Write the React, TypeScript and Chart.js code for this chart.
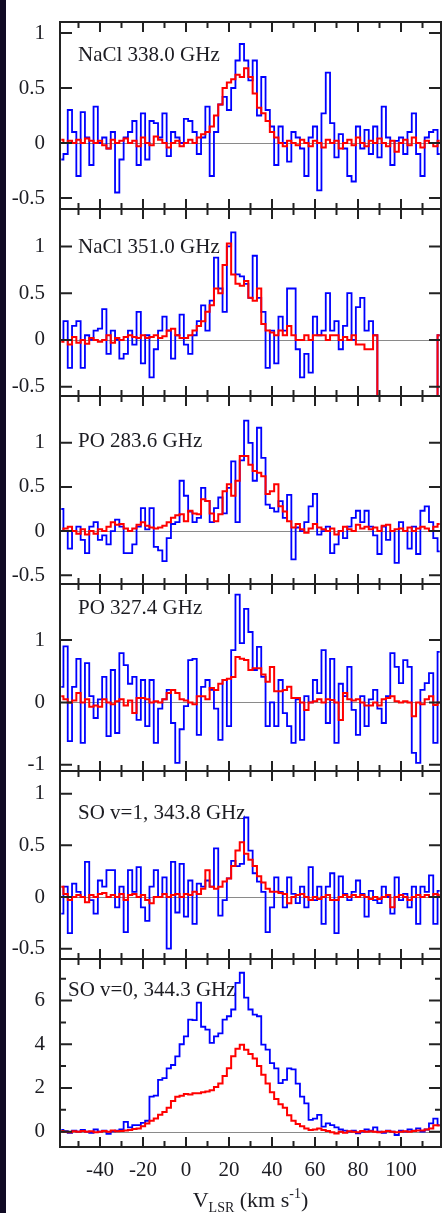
import React, { useEffect, useRef } from "react";
import { Chart, registerables } from "chart.js";

Chart.register(...registerables);

// ---------- data ----------
const VELOCITY = [
  -58, -56, -54, -52, -50, -48, -46, -44, -42, -40,
  -38, -36, -34, -32, -30, -28, -26, -24, -22, -20,
  -18, -16, -14, -12, -10, -8, -6, -4, -2, 0,
  2, 4, 6, 8, 10, 12, 14, 16, 18, 20,
  22, 24, 26, 28, 30, 32, 34, 36, 38, 40,
  42, 44, 46, 48, 50, 52, 54, 56, 58, 60,
  62, 64, 66, 68, 70, 72, 74, 76, 78, 80,
  82, 84, 86, 88, 90, 92, 94, 96, 98, 100,
  102, 104, 106, 108, 110, 112, 114, 116, 118,
];

const NACL338_BLUE = [
  -0.15, -0.1, 0.3, 0.1, -0.3, 0.28, 0.05, -0.2, 0.33, 0.0,
  0.05, -0.05, 0.1, -0.45, -0.15, 0.05, 0.1, 0.2, -0.2, 0.27,
  -0.15, 0.2, 0.18, 0.05, 0.27, -0.12, 0.1, 0.05, 0.0, 0.22,
  0.2, 0.1, -0.1, 0.05, 0.33, -0.3, 0.1, 0.35, 0.42, 0.3,
  0.5, 0.75, 0.9, 0.75, 0.57, 0.75, 0.25, 0.6, 0.3, 0.15,
  -0.2, 0.15, 0.0, -0.17, 0.1, 0.05, -0.05, -0.3, 0.05, 0.15,
  -0.43, 0.27, 0.64, 0.18, -0.13, 0.08, -0.05, -0.3, -0.35, 0.15,
  -0.05, 0.12, -0.1, 0.15, -0.13, 0.33, 0.05, -0.2, 0.02, 0.05,
  -0.1, 0.1, 0.27, -0.1, -0.3, 0.05, 0.1, 0.12, -0.1,
];
const NACL338_RED = [
  0.03, 0.0, 0.02, 0.0, 0.03, 0.0, 0.04, 0.02, 0.0, 0.02,
  -0.02, -0.05, 0.03, 0.0, 0.02, 0.04, 0.0, 0.02, -0.03, 0.05,
  0.0, -0.02, 0.06, 0.03, 0.0, -0.04, 0.0, 0.02, -0.03, 0.0,
  0.03, 0.0, 0.05, 0.08, 0.1, 0.15, 0.25, 0.35, 0.5, 0.55,
  0.58, 0.62, 0.6, 0.68, 0.6, 0.45, 0.32, 0.27, 0.2, 0.1,
  0.05, 0.0, -0.03, 0.02, 0.0, -0.02, 0.03, 0.0, -0.03, 0.02,
  0.0, -0.04, 0.03, 0.0, 0.02, -0.05, 0.0, 0.03, -0.02, 0.05,
  0.0, -0.03, 0.02, 0.0, 0.04, 0.0, -0.03, 0.02, -0.08, 0.0,
  0.03, -0.02, 0.05, 0.0, -0.04, 0.02, 0.0, -0.03, 0.02,
];

const NACL351_BLUE = [
  0.0, 0.2, -0.3, 0.15, 0.2, -0.3, 0.05, 0.0, 0.1, 0.12,
  0.33, -0.15, 0.1, 0.0, -0.2, -0.15, 0.1, -0.05, 0.3, -0.25,
  0.05, -0.4, -0.1, 0.1, 0.25, 0.1, -0.2, 0.05, 0.27, -0.05,
  -0.15, 0.05, 0.2, 0.37, 0.1, 0.42, 0.88, 0.55, 0.3, 1.0,
  1.15, 0.7, 0.68, 0.6, 0.45, 0.9, 0.45, 0.3, -0.3, 0.1,
  -0.25, 0.25, 0.1, 0.55, 0.55, -0.1, -0.4, -0.15, -0.35, 0.25,
  0.05, 0.1, 0.5, 0.1, 0.2, -0.1, 0.15, 0.5, 0.0, 0.35,
  0.45, 0.1, 0.2, 0.05, -3, -3, -3, -3, -3, -3,
  -3, -3, -3, -3, -3, -3, -3, -3, 0.05,
];
const NACL351_RED = [
  -0.02, 0.0, -0.05, 0.03, -0.03, 0.0, -0.04, 0.02, 0.0, -0.02,
  0.0, 0.05, -0.03, 0.02, 0.0, 0.03, 0.05, 0.03, 0.02, 0.05,
  0.02, 0.03, 0.05, 0.02, 0.04, 0.1, 0.12, 0.05, 0.02, 0.02,
  0.05, 0.1, 0.15, 0.2, 0.3, 0.37, 0.55, 0.5, 0.8, 1.03,
  0.7, 0.6, 0.58, 0.63, 0.45, 0.42, 0.55, 0.17, 0.1, 0.08,
  0.05, 0.1, 0.05, 0.15, 0.05, 0.0, 0.0, 0.05, 0.0, 0.05,
  0.05, 0.05, 0.0, 0.05, 0.05, 0.0, 0.03, 0.0, 0.05, -0.05,
  -0.05, -0.1, -0.1, 0.05, -3, -3, -3, -3, -3, -3,
  -3, -3, -3, -3, -3, -3, -3, -3, 0.05,
];

const PO283_BLUE = [
  0.25, 0.0, -0.2, 0.0, 0.05, -0.1, -0.25, 0.05, 0.1, -0.1,
  -0.05, -0.15, 0.0, 0.13, 0.05, -0.25, -0.25, -0.15, 0.05, 0.26,
  0.02, 0.26, -0.18, -0.22, -0.34, -0.08, 0.08, 0.1, 0.57, 0.4,
  0.22, 0.1, 0.15, 0.49, 0.34, 0.1, 0.26, 0.38, 0.2, 0.49,
  0.79, 0.1, 0.8, 1.25, 1.0, 0.57, 1.17, 0.83, 0.3, 0.26,
  0.22, 0.34, 0.15, 0.41, -0.32, 0.04, 0.0, 0.1, 0.28, 0.42,
  -0.04, 0.0, 0.05, -0.25, -0.15, 0.0, -0.08, 0.05, 0.15, 0.23,
  0.1, 0.23, 0.05, -0.05, -0.26, 0.05, -0.1, 0.0, -0.36, 0.1,
  0.0, -0.2, 0.05, -0.26, 0.23, 0.28, 0.1, -0.08, -0.23,
];
const PO283_RED = [
  0.0, 0.03, 0.05, 0.0, -0.03, 0.02, -0.04, 0.0, -0.03, 0.02,
  0.0, 0.05, 0.1, 0.07, 0.08, 0.03, 0.0, 0.03, 0.07, 0.1,
  0.06, 0.04, 0.03, 0.04, 0.06, 0.1, 0.15, 0.18, 0.19, 0.11,
  0.23, 0.2, 0.19, 0.36, 0.34, 0.2, 0.11, 0.19, 0.45, 0.53,
  0.4, 0.57, 0.85, 0.85, 0.75, 0.68, 0.66, 0.62, 0.42, 0.45,
  0.53, 0.28, 0.22, 0.11, 0.04, 0.08, 0.02, -0.02, 0.03, 0.08,
  0.04, 0.02, 0.0, 0.03, -0.04, 0.0, 0.05, 0.02, 0.0, 0.07,
  0.03, 0.05, 0.02, 0.04, 0.0, 0.06, 0.07, 0.0, 0.02, 0.03,
  0.0, 0.04, 0.0, 0.03, 0.05, 0.03, 0.0, 0.05, 0.08,
];

const PO327_BLUE = [
  0.25, 0.9, -0.62, 0.25, 0.7, -0.65, 0.63, 0.1, -0.25, 0.05,
  0.41, -0.54, 0.52, -0.49, 0.79, 0.6, 0.3, 0.41, -0.28, 0.36,
  -0.38, 0.36, -0.65, -0.1, 0.05, 0.2, -0.33, -0.97, -0.43, -0.06,
  0.68, 0.7, -0.52, 0.25, 0.36, 0.2, -0.1, -0.6, 0.36, -0.38,
  0.84, 1.73, 0.95, 1.5, 1.13, 0.52, 0.89, 0.41, -0.38, 0.0,
  -0.38, 0.36, -0.17, -0.38, -0.65, 0.05, -0.6, 0.1, 0.0, 0.36,
  0.15, 0.84, -0.33, 0.7, -0.65, 0.3, 0.1, 0.57, -0.12, -0.52,
  0.1, -0.38, 0.05, 0.2, -0.1, -0.33, 0.1, 0.79, 0.57, 0.31,
  0.68, 0.57, -0.81, -0.97, 0.2, 0.31, 0.47, -0.65, 0.81,
];
const PO327_RED = [
  0.1, 0.05, 0.0, 0.03, 0.15, 0.0, 0.05, -0.07, -0.05, -0.07,
  0.05, 0.0, -0.03, 0.02, 0.05, -0.05, 0.03, -0.17, 0.07, 0.07,
  0.05, 0.0, 0.02, 0.0, 0.05, 0.15, 0.2, 0.15, 0.05, 0.03,
  0.0, -0.03, 0.1, 0.1, 0.05, 0.23, 0.2, 0.3, 0.36, 0.38,
  0.41, 0.73, 0.7, 0.68, 0.52, 0.55, 0.55, 0.45, 0.33, 0.57,
  0.18, 0.18, 0.2, 0.25, 0.07, 0.07, 0.0, -0.12, 0.0, 0.02,
  0.05, 0.0, 0.05, 0.04, 0.0, -0.28, 0.15, 0.05, 0.03, 0.05,
  0.0, -0.05, -0.05, 0.0, -0.05, 0.05, 0.07, 0.1, 0.02, 0.0,
  0.02, 0.0, -0.22, 0.0, -0.03, 0.05, 0.1, -0.04, 0.0,
];

const SOV1_BLUE = [
  -0.16, 0.1, -0.35, 0.13, 0.05, 0.0, 0.34, -0.03, -0.16, 0.16,
  0.1, 0.26, 0.26, -0.1, 0.1, -0.34, 0.26, 0.05, 0.29, -0.1,
  -0.23, 0.1, 0.26, 0.0, 0.19, -0.5, 0.34, -0.15, 0.32, -0.19,
  0.16, -0.26, 0.13, 0.1, 0.16, 0.1, 0.47, -0.18, -0.03, 0.18,
  0.35, 0.3, 0.32, 0.77, 0.45, 0.23, 0.15, 0.05, -0.34, -0.1,
  0.19, 0.05, -0.1, 0.19, 0.03, -0.06, 0.1, -0.1, 0.29, -0.03,
  0.1, -0.26, 0.1, 0.23, -0.35, 0.2, 0.03, -0.03, 0.05, 0.16,
  0.03, -0.19, 0.06, -0.03, -0.06, 0.1, 0.0, -0.16, 0.19, -0.03,
  0.03, -0.1, 0.1, -0.26, 0.1, 0.05, 0.21, -0.26, 0.06,
];
const SOV1_RED = [
  0.1, 0.03, -0.03, 0.0, 0.02, 0.0, -0.05, 0.02, 0.0, 0.03,
  0.04, 0.0, 0.02, 0.0, 0.03, -0.03, 0.02, 0.03, 0.0, 0.02,
  -0.03, -0.06, 0.0, 0.0, 0.03, 0.0, 0.02, 0.03, 0.0, 0.03,
  0.02, 0.05, 0.03, 0.08, 0.26, 0.1, 0.08, 0.1, 0.15, 0.18,
  0.3, 0.45, 0.53, 0.42, 0.36, 0.3, 0.2, 0.14, 0.08, 0.05,
  0.05, 0.04, 0.03, -0.06, 0.0, 0.02, 0.03, 0.0, -0.03, 0.0,
  -0.02, 0.0, 0.02, -0.03, -0.03, 0.0, 0.02, 0.0, 0.02, 0.0,
  0.02, 0.0, -0.02, 0.0, -0.02, 0.0, 0.02, -0.1, 0.0, 0.02,
  0.0, -0.03, 0.0, 0.02, 0.0, 0.02, 0.0, 0.03, 0.02,
];

const SOV0_BLUE = [
  0.08, 0.02, -0.05, 0.05, 0.0, 0.08, 0.0, -0.05, 0.1, 0.0,
  0.05, -0.1, 0.02, 0.05, 0.1, 0.45, 0.2, 0.3, 0.3, 0.4,
  0.5, 1.6, 1.65, 2.37, 2.45, 2.9, 3.05, 3.45, 4.0, 4.36,
  5.13, 5.1, 5.9, 4.8, 4.67, 4.06, 4.36, 4.5, 5.13, 5.28,
  5.59, 6.81, 7.27, 6.13, 5.59, 5.36, 5.28, 3.98, 3.75, 3.14,
  2.9, 2.22, 2.37, 2.9, 2.85, 2.2, 1.6, 1.3, 0.54, 0.6,
  0.77, 0.23, 0.38, 0.3, 0.2, 0.1, 0.05, 0.0, 0.05, -0.08,
  0.0, 0.1, 0.05, 0.2, 0.0, -0.05, 0.05, 0.0, -0.15, 0.05,
  0.0, 0.1, 0.05, 0.15, 0.0, 0.1, 0.38, 0.6, 0.3,
];
const SOV0_RED = [
  0.03, 0.0, -0.02, 0.02, 0.0, 0.03, 0.0, 0.02, -0.02, 0.0,
  0.03, 0.0, 0.05, 0.02, 0.03, 0.05, 0.08, 0.12, 0.15, 0.25,
  0.38, 0.5, 0.6, 0.77, 0.9, 1.1, 1.4, 1.6, 1.65, 1.72,
  1.7, 1.76, 1.76, 1.8, 1.84, 1.9, 2.05, 2.2, 2.55, 2.9,
  3.45, 3.8, 3.98, 3.75, 3.55, 3.35, 3.0, 2.6, 2.2, 1.8,
  1.5, 1.25, 1.1, 0.75, 0.5, 0.35, 0.25, 0.15, 0.08, 0.1,
  0.15, 0.08, 0.03, -0.03, -0.08, 0.0, -0.05, 0.02, 0.0, -0.03,
  0.03, 0.0, 0.02, 0.0, -0.03, 0.0, 0.03, 0.0, -0.02, 0.0,
  0.02, 0.0, 0.03, 0.05, 0.05, 0.1, 0.15, 0.3, 0.28,
];

const PANEL_LABELS = [
  "NaCl 338.0 GHz",
  "NaCl 351.0 GHz",
  "PO 283.6 GHz",
  "PO 327.4 GHz",
  "SO v=1, 343.8 GHz",
  "SO v=0, 344.3 GHz",
];

const X_TICKS = [-40, -20, 0, 20, 40, 60, 80, 100];
const X_MINOR_TICKS = [-50, -30, -10, 10, 30, 50, 70, 90, 110];

const Y_TICKS_HALF = [-0.5, 0, 0.5, 1];
const Y_TICKS_ONE = [-1, 0, 1];
const Y_TICKS_SO0 = [0, 2, 4, 6];
const Y_MINOR_SO0 = [1, 3, 5, 7];

const X_TITLE_MAIN = "V";
const X_TITLE_SUB = "LSR";
const X_TITLE_MID = " (km s";
const X_TITLE_SUP = "-1";
const X_TITLE_END = ")";

// ---------- styling / layout ----------
const FONT = "'Liberation Serif', 'Times New Roman', Times, serif";
const TEXT = "#1c1c22";
const FRAME = "#222222";
const BLUE = "#0000ff";
const RED = "#ff0000";
const W = 443;
const H = 1213;
const PAD = 12;
const BOUNDS = [22, 209, 396, 584, 771, 959, 1147];

type PanelSpec = {
  label: string;
  blue: number[];
  red: number[];
  yMin: number;
  yMax: number;
  yTicks: number[];
  yMinor: number[];
  labelDx: number;
  labelDy: number;
};

const PANELS: PanelSpec[] = [
  { label: PANEL_LABELS[0], blue: NACL338_BLUE, red: NACL338_RED, yMin: -0.6, yMax: 1.1, yTicks: Y_TICKS_HALF, yMinor: [], labelDx: 18, labelDy: 33 },
  { label: PANEL_LABELS[1], blue: NACL351_BLUE, red: NACL351_RED, yMin: -0.6, yMax: 1.4, yTicks: Y_TICKS_HALF, yMinor: [], labelDx: 18, labelDy: 38 },
  { label: PANEL_LABELS[2], blue: PO283_BLUE, red: PO283_RED, yMin: -0.6, yMax: 1.53, yTicks: Y_TICKS_HALF, yMinor: [], labelDx: 18, labelDy: 45 },
  { label: PANEL_LABELS[3], blue: PO327_BLUE, red: PO327_RED, yMin: -1.1, yMax: 1.9, yTicks: Y_TICKS_ONE, yMinor: [], labelDx: 18, labelDy: 24 },
  { label: PANEL_LABELS[4], blue: SOV1_BLUE, red: SOV1_RED, yMin: -0.6, yMax: 1.22, yTicks: Y_TICKS_HALF, yMinor: [], labelDx: 18, labelDy: 42 },
  { label: PANEL_LABELS[5], blue: SOV0_BLUE, red: SOV0_RED, yMin: -0.7, yMax: 7.9, yTicks: Y_TICKS_SO0, yMinor: Y_MINOR_SO0, labelDx: 8, labelDy: 31 },
];

const panelPlugin = {
  id: "panelDeco",
  beforeDatasetsDraw(chart: any, _args: any, opts: any) {
    const { ctx, chartArea: a, scales } = chart;
    const y0 = Math.round(scales.y.getPixelForValue(0)) + 0.5;
    ctx.save();
    ctx.strokeStyle = "#8a8a8a";
    ctx.lineWidth = 1;
    ctx.beginPath();
    ctx.moveTo(a.left, y0);
    ctx.lineTo(a.right, y0);
    ctx.stroke();
    ctx.font = `21px ${FONT}`;
    ctx.fillStyle = TEXT;
    ctx.textBaseline = "middle";
    ctx.textAlign = "left";
    ctx.fillText(opts.label, a.left + opts.labelDx, a.top + opts.labelDy);
    ctx.restore();
  },
  afterDatasetsDraw(chart: any, _args: any, opts: any) {
    const { ctx, chartArea: a, scales } = chart;
    const xs = scales.x;
    const ys = scales.y;
    ctx.save();
    ctx.strokeStyle = FRAME;
    ctx.lineWidth = 2;
    ctx.beginPath();
    const tickX = (v: number, len: number) => {
      const px = xs.getPixelForValue(v);
      ctx.moveTo(px, a.top);
      ctx.lineTo(px, a.top + len);
      ctx.moveTo(px, a.bottom);
      ctx.lineTo(px, a.bottom - len);
    };
    X_TICKS.forEach((v) => tickX(v, 10));
    X_MINOR_TICKS.forEach((v) => tickX(v, 6));
    const tickY = (v: number, len: number) => {
      const py = ys.getPixelForValue(v);
      ctx.moveTo(a.left, py);
      ctx.lineTo(a.left + len, py);
      ctx.moveTo(a.right, py);
      ctx.lineTo(a.right - len, py);
    };
    opts.yTicks.forEach((v: number) => tickY(v, 12));
    opts.yMinor.forEach((v: number) => tickY(v, 6));
    ctx.stroke();
    ctx.strokeRect(a.left, a.top, a.right - a.left, a.bottom - a.top);
    ctx.restore();
  },
  afterDraw(chart: any, _args: any, opts: any) {
    if (!opts.showTitle) return;
    const { ctx, chartArea: a } = chart;
    const big = `22px ${FONT}`;
    const small = `14px ${FONT}`;
    const parts = [
      { t: X_TITLE_MAIN, f: big, dy: 0 },
      { t: X_TITLE_SUB, f: small, dy: 5 },
      { t: X_TITLE_MID, f: big, dy: 0 },
      { t: X_TITLE_SUP, f: small, dy: -9 },
      { t: X_TITLE_END, f: big, dy: 0 },
    ];
    ctx.save();
    ctx.fillStyle = TEXT;
    ctx.textBaseline = "alphabetic";
    ctx.textAlign = "left";
    let total = 0;
    parts.forEach((p) => {
      ctx.font = p.f;
      total += ctx.measureText(p.t).width;
    });
    let x = (a.left + a.right) / 2 - total / 2;
    const base = opts.titleBaseline;
    parts.forEach((p) => {
      ctx.font = p.f;
      ctx.fillText(p.t, x, base + p.dy);
      x += ctx.measureText(p.t).width;
    });
    ctx.restore();
  },
};

function Panel({ spec, index }: { spec: PanelSpec; index: number }) {
  const ref = useRef<HTMLCanvasElement>(null);
  const isLast = index === PANELS.length - 1;
  const top = BOUNDS[index] - PAD;
  const height = isLast ? H - top : BOUNDS[index + 1] - BOUNDS[index] + 2 * PAD;
  const xAxisHeight = isLast ? H - BOUNDS[index + 1] : 0;

  useEffect(() => {
    if (!ref.current) return;
    const toPoints = (arr: number[]) => VELOCITY.map((v, i) => ({ x: v, y: arr[i] }));
    const chart = new Chart(ref.current, {
      type: "line",
      data: {
        datasets: [
          {
            label: "red",
            data: toPoints(spec.red),
            borderColor: RED,
            borderWidth: 2,
            pointRadius: 0,
            stepped: "middle",
            fill: false,
          },
          {
            label: "blue",
            data: toPoints(spec.blue),
            borderColor: BLUE,
            borderWidth: 1.8,
            pointRadius: 0,
            stepped: "middle",
            fill: false,
          },
        ],
      },
      options: {
        animation: false,
        responsive: false,
        devicePixelRatio: 1,
        events: [],
        layout: {
          autoPadding: false,
          padding: { top: PAD, bottom: isLast ? 0 : PAD, left: 0, right: 2 },
        },
        plugins: {
          legend: { display: false },
          tooltip: { enabled: false },
          title: { display: false },
          panelDeco: {
            label: spec.label,
            labelDx: spec.labelDx,
            labelDy: spec.labelDy,
            yTicks: spec.yTicks,
            yMinor: spec.yMinor,
            showTitle: isLast,
            titleBaseline: 1207 - top,
          },
        } as any,
        scales: {
          x: {
            type: "linear",
            min: -58.6,
            max: 118.6,
            display: isLast,
            grid: { display: false, drawTicks: false },
            border: { display: false },
            ticks: {
              font: { family: FONT, size: 21 },
              color: TEXT,
              padding: 11,
              maxRotation: 0,
              autoSkip: false,
              callback: (v: any) => String(v),
            },
            afterBuildTicks: (s: any) => {
              s.ticks = X_TICKS.map((v) => ({ value: v }));
            },
            afterFit: (s: any) => {
              s.height = xAxisHeight;
              s.paddingLeft = 0;
              s.paddingRight = 0;
            },
          },
          y: {
            type: "linear",
            min: spec.yMin,
            max: spec.yMax,
            grid: { display: false, drawTicks: false },
            border: { display: false },
            ticks: {
              font: { family: FONT, size: 21 },
              color: TEXT,
              padding: 15,
              autoSkip: false,
              callback: (v: any) => String(v),
            },
            afterBuildTicks: (s: any) => {
              s.ticks = spec.yTicks.map((v) => ({ value: v }));
            },
            afterFit: (s: any) => {
              s.width = 60;
              s.paddingTop = 0;
              s.paddingBottom = 0;
            },
          },
        },
      },
      plugins: [panelPlugin as any],
    });
    return () => chart.destroy();
  }, [spec, isLast, top, xAxisHeight]);

  return (
    <canvas
      ref={ref}
      width={W}
      height={height}
      style={{ position: "absolute", left: 0, top, width: W, height }}
    />
  );
}

export default function App() {
  return (
    <div
      style={{
        position: "absolute",
        left: 0,
        top: 0,
        width: W,
        height: H,
        background: "#ffffff",
        overflow: "hidden",
      }}
    >
      <div
        style={{
          position: "absolute",
          left: 0,
          top: 0,
          width: 6,
          height: H,
          background: "#100a24",
        }}
      />
      {PANELS.map((p, i) => (
        <Panel key={i} spec={p} index={i} />
      ))}
    </div>
  );
}
